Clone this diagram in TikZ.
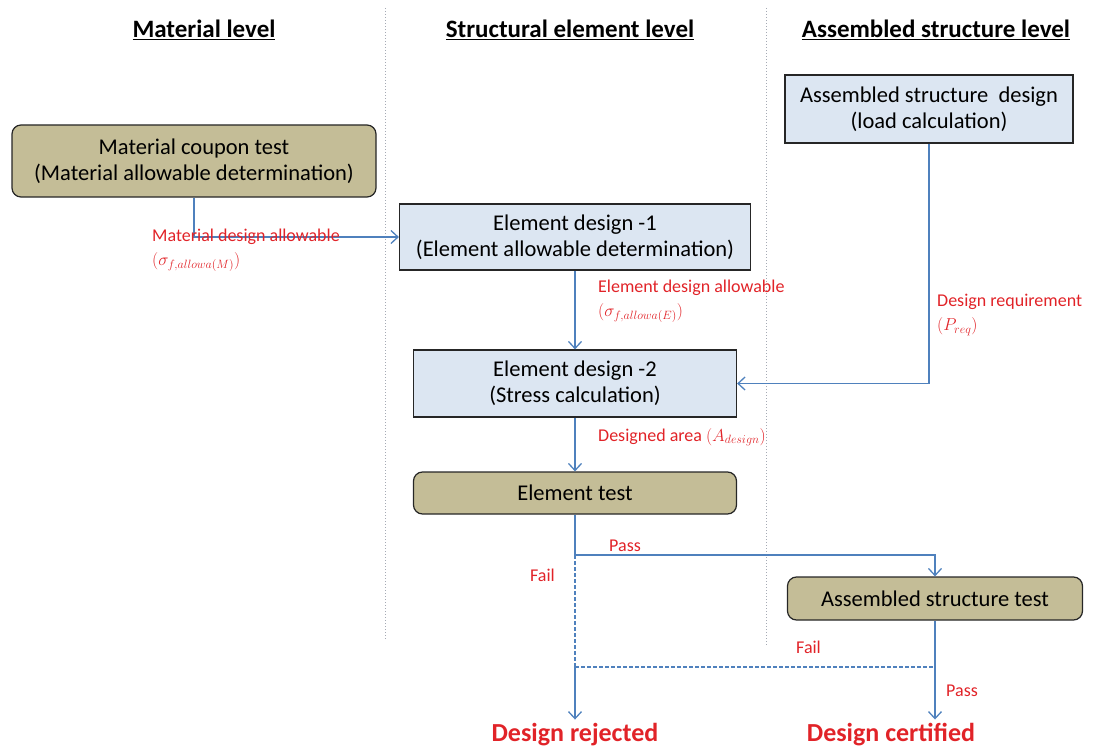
\documentclass[tikz,border=0pt]{standalone}
\usepackage{fontspec}
\setmainfont{Carlito}
\usetikzlibrary{arrows.meta}
\definecolor{tanfill}{RGB}{196,189,151}
\definecolor{bluefill}{RGB}{220,230,242}
\definecolor{lineblue}{RGB}{79,129,189}
\definecolor{labred}{RGB}{225,35,40}
\definecolor{sepgray}{RGB}{165,170,180}
\tikzset{
  testbox/.style={draw=black!85, line width=1.2pt, fill=tanfill, rounded corners=9pt, align=center, font=\fontsize{22.5}{26}\selectfont, inner sep=2pt},
  designbox/.style={draw=black!85, line width=1.2pt, fill=bluefill, align=center, font=\fontsize{22.5}{26}\selectfont, inner sep=2pt},
  conn/.style={draw=lineblue, line width=1.3pt, -{Straight Barb[length=7pt,width=13pt,line width=1.3pt]}},
  plain/.style={draw=lineblue, line width=1.3pt},
  dashconn/.style={draw=lineblue, line width=1.3pt, dashed, dash pattern=on 4pt off 2pt},
  lab/.style={text=labred, font=\fontsize{18}{21}\selectfont, align=left, inner sep=0pt},
  header/.style={font=\bfseries\fontsize{25}{29}\selectfont, inner sep=0pt},
  result/.style={text=labred, font=\bfseries\fontsize{26}{30}\selectfont, inner sep=3pt},
  sep/.style={draw=sepgray, line width=1pt, dotted}
}
\begin{document}
\begin{tikzpicture}[x=1pt,y=-1pt]
\useasboundingbox (0,0) rectangle (1098,749);
% separators
\draw[sep] (385,8) -- (385,640);
\draw[sep] (766,8) -- (766,645);
% headers
\node[header, anchor=base] (h1) at (204,38) {\underline{Material level}};
\node[header, anchor=base] (h2) at (570,38) {\underline{Structural element level}};
\node[header, anchor=base] (h3) at (936,38) {\underline{Assembled structure level}};
% boxes
\node[testbox, minimum width=364pt, minimum height=72pt] (mct) at (194,161) {Material coupon test\\(Material allowable determination)};
\node[designbox, minimum width=351pt, minimum height=66pt] (e1) at (575,237) {Element design -1\\(Element allowable determination)};
\node[designbox, minimum width=323pt, minimum height=67pt] (e2) at (575,383.5) {Element design -2\\(Stress calculation)};
\node[testbox, minimum width=323pt, minimum height=42pt] (et) at (575,493) {Element test};
\node[designbox, minimum width=288pt, minimum height=68pt] (asd) at (929,109) {Assembled structure~ design\\(load calculation)};
\node[testbox, minimum width=295pt, minimum height=43pt] (ast) at (935,598.5) {Assembled structure test};
% results
\node[result, anchor=base] (rej) at (575,741) {Design rejected};
\node[result, anchor=base] (cert) at (891,741) {Design certified};
% connectors
\draw[conn] (mct.south) |- (e1.west);
\draw[conn] (e1.south) -- (e2.north);
\draw[conn] (asd.south) |- (e2.east);
\draw[conn] (e2.south) -- (et.north);
\coordinate (split) at (575,555);
\coordinate (joinL) at (575,667);
\coordinate (joinR) at (935,667);
\draw[plain] (et.south) -- (split);
\draw[conn] (split) -| (ast.north);
\draw[dashconn] (split) -- (joinL);
\draw[dashconn] (joinL) -- (joinR);
\draw[conn] (joinL) -- (rej.north);
\draw[plain] (ast.south) -- (joinR);
\draw[conn] (joinR) -- (joinR |- cert.north);
% labels
\node[lab, anchor=north west] (l1) at (152,229) {Material design allowable\\[3pt]$(\sigma_{f,allowa(M)})$};
\node[lab, anchor=north west] (l2) at (598,280) {Element design allowable\\[3pt]$(\sigma_{f,allowa(E)})$};
\node[lab, anchor=north west] (l3) at (937,294) {Design requirement\\[3pt]$(P_{req})$};
\node[lab, anchor=west] (l4) at (598,437) {Designed area $(A_{design})$};
\node[lab, anchor=west] (p1) at (609,546) {Pass};
\node[lab, anchor=west] (f1) at (530,575) {Fail};
\node[lab, anchor=west] (f2) at (796,647) {Fail};
\node[lab, anchor=west] (p2) at (946,691) {Pass};
\end{tikzpicture}
\end{document}
